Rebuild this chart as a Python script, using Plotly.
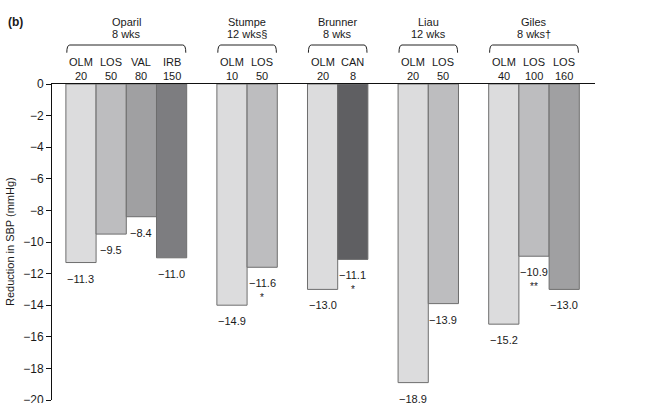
import plotly.graph_objects as go

# ---- data ----
studies = ["Oparil", "Stumpe", "Brunner", "Liau", "Giles"]
durations = ["8 wks", "12 wks§", "8 wks", "12 wks", "8 wks†"]
drugs = [["OLM", "LOS", "VAL", "IRB"], ["OLM", "LOS"], ["OLM", "CAN"], ["OLM", "LOS"], ["OLM", "LOS", "LOS"]]
doses = [["20", "50", "80", "150"], ["10", "50"], ["20", "8"], ["20", "50"], ["40", "100", "160"]]
# bar heights as drawn
values = [[-11.3, -9.5, -8.4, -11.0], [-14.0, -11.6], [-13.0, -11.1], [-18.9, -13.9], [-15.2, -10.9, -13.0]]
# printed value labels
labels = [["−11.3", "−9.5", "−8.4", "−11.0"], ["−14.9", "−11.6"], ["−13.0", "−11.1"], ["−18.9", "−13.9"], ["−15.2", "−10.9", "−13.0"]]
stars = [["", "", "", ""], ["", "*"], ["", "*"], ["", ""], ["", "**", ""]]
colors = [["#dcdcdd", "#bdbdbf", "#a0a0a2", "#7d7d80"], ["#dcdcdd", "#bdbdbf"], ["#dcdcdd", "#5f5f62"],
          ["#dcdcdd", "#bdbdbf"], ["#dcdcdd", "#bdbdbf", "#a0a0a2"]]
yticks = list(range(-20, 1, 2))

FONT = "Liberation Sans, Arial, Helvetica, sans-serif"
TXT = "#1a1a1a"


def ann(**kw):
    base = dict(showarrow=False, xanchor="center", yanchor="middle")
    base.update(kw)
    return base


# ---- layout of slots ----
xs, ys, cs = [], [], []
annotations = []
shapes = []
slot = 0
for g, st in enumerate(studies):
    start = slot
    for i, v in enumerate(values[g]):
        xc = slot + 0.5
        xs.append(xc); ys.append(v); cs.append(colors[g][i])
        annotations.append(ann(x=xc, y=v, xref="x", yref="y", text=labels[g][i],
                               yshift=-16, font=dict(size=11, color=TXT, family=FONT)))
        if stars[g][i]:
            annotations.append(ann(x=xc, y=v, xref="x", yref="y", text=stars[g][i],
                                   yshift=-30, font=dict(size=10, color=TXT, family=FONT)))
        annotations.append(ann(x=xc, y=1.0696, xref="x", yref="paper", text=drugs[g][i],
                               font=dict(size=11, color=TXT, family=FONT)))
        annotations.append(ann(x=xc, y=1.0253, xref="x", yref="paper", text=doses[g][i],
                               font=dict(size=11, color=TXT, family=FONT)))
        slot += 1
    end = slot
    mid = (start + end) / 2
    annotations.append(ann(x=mid, y=1.197, xref="x", yref="paper", text=st,
                           font=dict(size=11, color=TXT, family=FONT)))
    annotations.append(ann(x=mid, y=1.158, xref="x", yref="paper", text=durations[g],
                           font=dict(size=11, color=TXT, family=FONT)))
    d = 0.1
    yt, yb = 1.1234, 1.099
    shapes.append(dict(type="path", xref="x", yref="paper",
                       path=f"M {start+0.03},{yb} Q {start+0.03},{yt} {start+0.03+d},{yt} "
                            f"L {end-0.03-d},{yt} Q {end-0.03},{yt} {end-0.03},{yb}",
                       line=dict(color="#222", width=1)))
    slot += 1

annotations.append(ann(x=-0.0773, y=0.5, xref="paper", yref="paper", text="Reduction in SBP (mmHg)",
                       textangle=-90, font=dict(size=11, color=TXT, family=FONT)))
annotations.append(ann(x=-0.068, y=1.197, xref="paper", yref="paper", text="<b>(b)</b>",
                       font=dict(size=12, color=TXT, family=FONT)))

fig = go.Figure(go.Bar(x=xs, y=ys, width=1, marker=dict(color=cs, line=dict(color="#6e6e6e", width=1)),
                       hoverinfo="skip"))

fig.update_layout(
    width=651, height=403,
    margin=dict(l=52, r=56, t=84, b=3, autoexpand=False),
    paper_bgcolor="white", plot_bgcolor="white",
    showlegend=False,
    annotations=annotations,
    shapes=shapes,
    xaxis=dict(range=[-0.46, 17.52], side="top", showline=True, linecolor="#111", linewidth=1,
               showticklabels=False, ticks="", showgrid=False, zeroline=False, fixedrange=True,
               automargin=False),
    yaxis=dict(range=[-20, 0], tickvals=yticks, ticktext=[("−" + str(-t)) if t < 0 else "0" for t in yticks],
               showline=True, linecolor="#111", linewidth=1, ticks="outside", ticklen=5, tickcolor="#111",
               ticklabeloverflow="allow", automargin=False,
               showgrid=False, zeroline=False, tickfont=dict(size=12, color=TXT, family=FONT), fixedrange=True),
)

# remove the default page margin so the figure sits at the window's top-left corner
fig.write_html("out.html", config={"displayModeBar": False},
               post_script="document.body.style.margin='0';document.body.style.overflow='hidden';")
